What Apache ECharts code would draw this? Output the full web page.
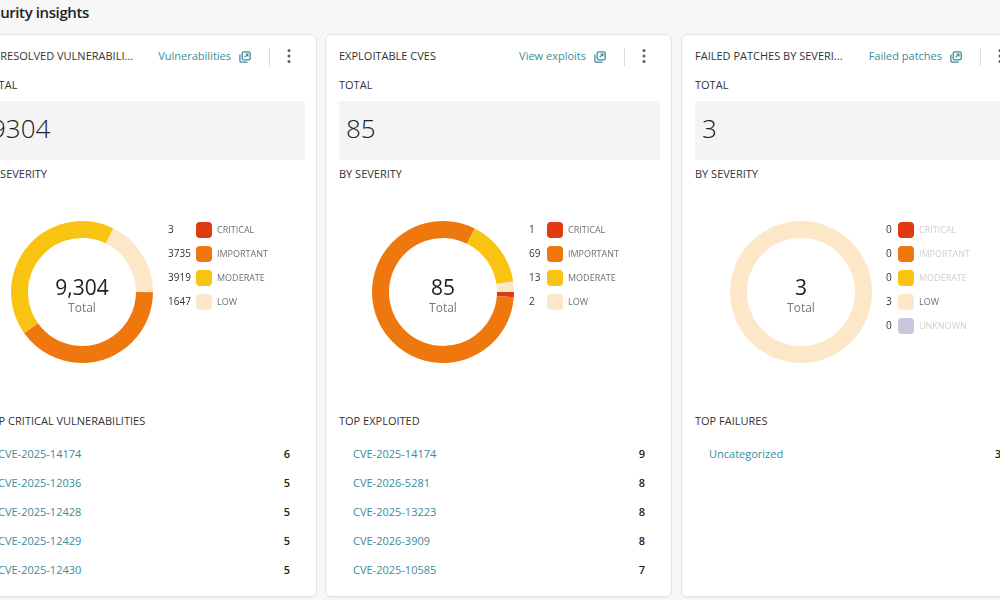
<!DOCTYPE html>
<html>
<head>
<meta charset="utf-8">
<script src="https://cdn.jsdelivr.net/npm/echarts@6/dist/echarts.min.js"></script>
<style>
  html, body { margin: 0; padding: 0; }
  body {
    width: 1000px; height: 600px; overflow: hidden; position: relative;
    background: #f7f7f7; color: #333;
    font-family: 'Open Sans', 'Noto Sans', sans-serif;
  }
  .page-title {
    position: absolute; left: -23px; top: 1px; line-height: 22px;
    font-size: 15px; font-weight: 600; color: #222; white-space: nowrap;
    letter-spacing: -0.4px;
  }
  .card {
    position: absolute; top: 34px; width: 345px; height: 561px;
    background: #fff; border: 1px solid #e4e4e4; border-radius: 6px;
    box-shadow: 0 1px 2px rgba(0, 0, 0, 0.04);
  }
  .card svg { display: block; }
  .hdr { position: absolute; left: 13px; top: 13px; font-size: 11px; line-height: 16px; color: #333; white-space: nowrap; }
  .link { position: absolute; right: 85px; top: 13px; font-size: 11px; line-height: 16px; color: #3a8d99; white-space: nowrap; }
  .ext { position: absolute; left: 268px; top: 16px; }
  .divider { position: absolute; left: 298px; top: 13px; width: 1px; height: 18px; background: #dcdcdc; }
  .kebab { position: absolute; left: 315px; top: 13px; }
  .label { position: absolute; left: 13px; font-size: 11px; line-height: 16px; color: #333; white-space: nowrap; }
  .totalbox {
    position: absolute; left: 13px; top: 66px; width: 314px; height: 59px;
    background: #f4f4f4; padding-left: 7px; line-height: 54px;
    font-size: 26px; font-weight: 300; color: #222;
  }
  .chart { position: absolute; left: -1px; top: 159px; width: 347px; height: 210px; }
  .list { position: absolute; left: 0; top: 404px; width: 345px; }
  .row { position: relative; height: 29px; line-height: 29px; font-size: 11px; }
  .row .name { position: absolute; left: 27px; color: #3a8d99; }
  .row .val { position: absolute; right: 26px; font-weight: 600; color: #222; }
</style>
</head>
<body>
<div class="page-title">Security insights</div>
<div id="cards"></div>
<script>
// severity legend
const severityNames = ['CRITICAL', 'IMPORTANT', 'MODERATE', 'LOW', 'UNKNOWN'];
const severityColors = ['#df3a12', '#ee770e', '#f8c311', '#fce8c9', '#c9c7dc'];

// card 1 - unresolved vulnerabilities
const vulnCounts = [3, 3735, 3919, 1647];
const topCriticalIds = ['CVE-2025-14174', 'CVE-2025-12036', 'CVE-2025-12428', 'CVE-2025-12429', 'CVE-2025-12430'];
const topCriticalCounts = [6, 5, 5, 5, 5];

// card 2 - exploitable cves
const exploitCounts = [1, 69, 13, 2];
const topExploitedIds = ['CVE-2025-14174', 'CVE-2026-5281', 'CVE-2025-13223', 'CVE-2026-3909', 'CVE-2025-10585'];
const topExploitedCounts = [9, 8, 8, 8, 7];

// card 3 - failed patches
const failedCounts = [0, 0, 0, 3, 0];
const topFailureNames = ['Uncategorized'];
const topFailureCounts = [3];

const cards = [
  {
    left: -30, title: 'UNRESOLVED VULNERABILI...', link: 'Vulnerabilities',
    counts: vulnCounts, listTitle: 'TOP CRITICAL VULNERABILITIES',
    listNames: topCriticalIds, listValues: topCriticalCounts,
    cx: 112, legendX: 226, countX: 198
  },
  {
    left: 325, title: 'EXPLOITABLE CVES', link: 'View exploits',
    counts: exploitCounts, listTitle: 'TOP EXPLOITED',
    listNames: topExploitedIds, listValues: topExploitedCounts,
    cx: 118, legendX: 222, countX: 204
  },
  {
    left: 681, title: 'FAILED PATCHES BY SEVERI...', link: 'Failed patches',
    counts: failedCounts, listTitle: 'TOP FAILURES',
    listNames: topFailureNames, listValues: topFailureCounts,
    cx: 120, legendX: 217, countX: 205
  }
];

const extIcon = '<svg width="12" height="12" viewBox="0 0 12 12">'
  + '<rect x="3.2" y="0.8" width="8" height="8" rx="1.6" fill="none" stroke="#3a8d99" stroke-width="1.3"/>'
  + '<path d="M0.9 3.4v6.6c0 .6.4 1.1 1.1 1.1h6.6" fill="none" stroke="#3a8d99" stroke-width="1.3"/>'
  + '<path d="M5.6 6.4l3.3-3.3M6.4 3h2.5v2.5" fill="none" stroke="#3a8d99" stroke-width="1.2"/></svg>';
const kebabIcon = '<svg width="6" height="16" viewBox="0 0 6 16">'
  + '<circle cx="3" cy="2.5" r="1.5" fill="#4f6468"/><circle cx="3" cy="8" r="1.5" fill="#4f6468"/>'
  + '<circle cx="3" cy="13.5" r="1.5" fill="#4f6468"/></svg>';

function buildCard(card) {
  const total = card.counts.reduce((a, b) => a + b, 0);
  const el = document.createElement('div');
  el.className = 'card';
  el.style.left = card.left + 'px';
  let rows = '';
  card.listNames.forEach((n, i) => {
    rows += '<div class="row"><span class="name">' + n + '</span><span class="val">'
      + card.listValues[i] + '</span></div>';
  });
  el.innerHTML = '<div class="hdr">' + card.title + '</div>'
    + '<div class="link">' + card.link + '</div>'
    + '<div class="ext">' + extIcon + '</div>'
    + '<div class="divider"></div>'
    + '<div class="kebab">' + kebabIcon + '</div>'
    + '<div class="label" style="top:42px">TOTAL</div>'
    + '<div class="totalbox">' + total + '</div>'
    + '<div class="label" style="top:131px">BY SEVERITY</div>'
    + '<div class="chart"></div>'
    + '<div class="label" style="top:378px">' + card.listTitle + '</div>'
    + '<div class="list">' + rows + '</div>';
  document.getElementById('cards').appendChild(el);
  drawDonut(el.querySelector('.chart'), card, total);
}

function drawDonut(dom, card, total) {
  const chart = echarts.init(dom, null, { renderer: 'canvas' });
  const names = severityNames.slice(0, card.counts.length);
  const cy = 98;
  const data = card.counts.map((v, i) => ({
    name: names[i], value: v, itemStyle: { color: severityColors[i] }
  }));
  const valueOf = name => card.counts[names.indexOf(name)];

  chart.setOption({
    animation: false,
    legend: [
      {
        // swatches + names
        orient: 'vertical', left: card.legendX, top: 28, padding: 0,
        itemWidth: 16, itemHeight: 16, itemGap: 8, icon: 'roundRect',
        selectedMode: false,
        formatter: name => valueOf(name) === 0 ? '{dim|' + name + '}' : name,
        textStyle: {
          fontFamily: 'Open Sans', fontSize: 9, color: '#707070',
          rich: { dim: { fontFamily: 'Open Sans', fontSize: 9, color: '#cfcfcf' } }
        }
      },
      {
        // counts, left of the swatches
        orient: 'vertical', left: card.countX - 6, top: 28, padding: 0,
        itemWidth: 1, itemHeight: 16, itemGap: 8, icon: 'rect',
        itemStyle: { opacity: 0 }, selectedMode: false,
        formatter: name => String(valueOf(name)),
        textStyle: { fontFamily: 'Open Sans', fontSize: 10, color: '#333' }
      }
    ],
    series: [{
      type: 'pie',
      radius: [54, 71],
      center: [card.cx, cy],
      startAngle: 0,
      clockwise: true,
      silent: true,
      label: { show: false },
      labelLine: { show: false },
      emphasis: { disabled: true },
      data: data
    }],
    graphic: [
      {
        type: 'text', x: card.cx, y: cy - 3,
        style: {
          text: total.toLocaleString('en-US'), align: 'center', verticalAlign: 'middle',
          fontFamily: 'Open Sans', fontSize: 21, fontWeight: 500, fill: '#1f1f1f'
        }
      },
      {
        type: 'text', x: card.cx, y: cy + 17,
        style: {
          text: 'Total', align: 'center', verticalAlign: 'middle',
          fontFamily: 'Open Sans', fontSize: 12, fill: '#777'
        }
      }
    ]
  });
}

cards.forEach(buildCard);
</script>
</body>
</html>
